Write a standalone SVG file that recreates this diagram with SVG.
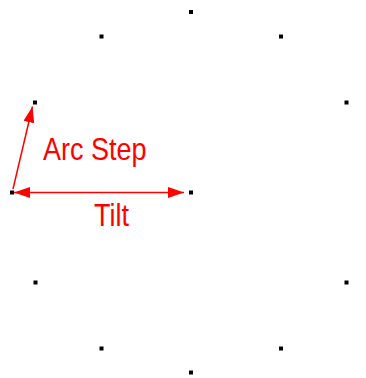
<svg xmlns="http://www.w3.org/2000/svg" width="366" height="378" viewBox="0 0 366 378">
<style>
.dot{fill:#000}
.arr{stroke:#ff0000;stroke-width:1.5;fill:none}
.lbl{fill:#ff0000;font-family:"Liberation Sans",Arial,sans-serif;font-size:27px}
</style>
<defs>
<marker id="ah" markerUnits="userSpaceOnUse" markerWidth="17" markerHeight="12" refX="16" refY="5.5" orient="auto-start-reverse" viewBox="0 0 17 12">
<path d="M0,0 L16,5.5 L0,11 z" fill="#ff0000"/>
</marker>
</defs>
<rect width="366" height="378" fill="#fff"/>
<g id="dots">
<g id="p0"><rect class="dot" x="189" y="10" width="4" height="4"/></g>
<g id="p1"><rect class="dot" x="99.5" y="34.5" width="4" height="4"/></g>
<g id="p2"><rect class="dot" x="279" y="34.5" width="4" height="4"/></g>
<g id="p3"><rect class="dot" x="33" y="100.5" width="4" height="4"/></g>
<g id="p4"><rect class="dot" x="344.5" y="100.5" width="4" height="4"/></g>
<g id="p5"><rect class="dot" x="10" y="190.5" width="4" height="4"/></g>
<g id="p6"><rect class="dot" x="189" y="190.5" width="4" height="4"/></g>
<g id="p7"><rect class="dot" x="33.5" y="280.5" width="4" height="4"/></g>
<g id="p8"><rect class="dot" x="344.5" y="280.5" width="4" height="4"/></g>
<g id="p9"><rect class="dot" x="99.5" y="346.5" width="4" height="4"/></g>
<g id="p10"><rect class="dot" x="279" y="346.5" width="4" height="4"/></g>
<g id="p11"><rect class="dot" x="189" y="370.5" width="4" height="4"/></g>
</g>
<g id="connectors">
<line class="arr" x1="14" y1="192.5" x2="184" y2="192.5" marker-start="url(#ah)" marker-end="url(#ah)"/>
<line class="arr" x1="13" y1="189" x2="32.5" y2="106.5" marker-end="url(#ah)"/>
</g>
<g id="labels">
<text class="lbl" transform="translate(43,160) scale(1,1.15)">Arc Step</text>
<text class="lbl" transform="translate(94,226) scale(1,1.15)">Tilt</text>
</g>
</svg>
